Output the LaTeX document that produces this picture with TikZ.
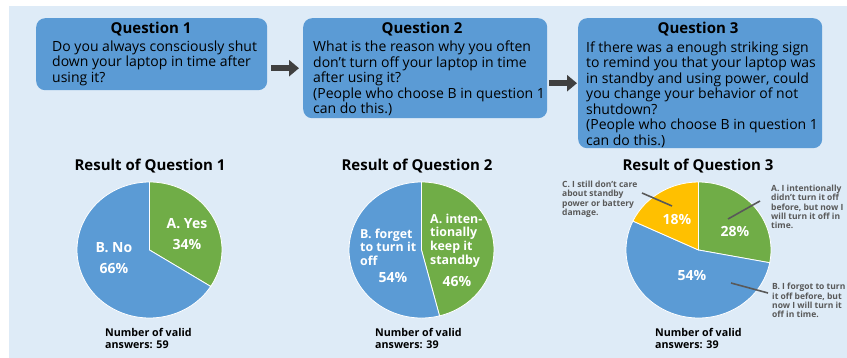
\documentclass[tikz,border=0pt]{standalone}
\usepackage{fontspec}
\setmainfont{Open Sans}
\usetikzlibrary{arrows.meta}
\definecolor{bgblue}{HTML}{DEEBF7}
\definecolor{boxblue}{HTML}{5B9BD5}
\definecolor{pgreen}{HTML}{70AD47}
\definecolor{pyellow}{HTML}{FFC000}
\definecolor{adark}{HTML}{404040}
\definecolor{lgray}{HTML}{595959}
\begin{document}
\begin{tikzpicture}[x=1pt,y=-1pt,
  qbox/.style={draw=none, fill=boxblue, rounded corners=9pt, inner sep=0, anchor=north west},
  qtitle/.style={font=\fontsize{15}{16}\selectfont\bfseries, inner sep=0, anchor=base},
  qbody/.style={font=\fontsize{14}{15.5}\selectfont, align=left, inner sep=0, anchor=north west},
  flow/.style={adark, line width=5.5pt, -{Triangle[length=10pt,width=16pt]}},
  rtitle/.style={font=\fontsize{15}{17}\selectfont\bfseries, inner sep=0, anchor=base},
  nvalid/.style={font=\fontsize{10.7}{12}\selectfont\bfseries, align=left, inner sep=0, anchor=north west},
  plabel/.style={font=\fontsize{12.4}{13.7}\selectfont\bfseries, text=white, align=left, inner sep=0, anchor=north west},
  pcent/.style={font=\fontsize{14}{15}\selectfont\bfseries, text=white, inner sep=0, anchor=center},
  callout/.style={font=\fontsize{8.5}{9.3}\selectfont\bfseries, text=lgray, align=left, inner sep=0, anchor=north west},
  leader/.style={draw=lgray, line width=1.6pt},
  slice/.style={draw=white, line width=0.8pt}]
\useasboundingbox (0,0) rectangle (847,358);
\fill[bgblue] (9,6) rectangle (847,358);

% question boxes
\node[qbox, minimum width=231pt, minimum height=72pt] (q1) at (36,18) {};
\node[qbox, minimum width=244pt, minimum height=100pt] (q2) at (303,18) {};
\node[qbox, minimum width=244pt, minimum height=130pt] (q3) at (578,18) {};

\node[qtitle] (t1) at (151,33.5) {Question 1};
\node[qtitle] (t2) at (422,33.5) {Question 2};
\node[qtitle] (t3) at (698,33.5) {Question 3};

\node[qbody] (b1) at (52,40.5) {Do you always consciously shut\\down your laptop in time after\\using it?};
\node[qbody] (b2) at (313,41) {What is the reason why you often\\don't turn off your laptop in time\\after using it?\\(People who choose B in question 1\\can do this.)};
\node[qbody] (b3) at (586,41.5) {If there was a enough striking sign\\to remind you that your laptop was\\in standby and using power, could\\you change your behavior of not\\shutdown?\\(People who choose B in question 1\\can do this.)};

\draw[flow] ([xshift=4pt]q1.east |- q2.west) -- ([xshift=-4pt]q2.west);
\draw[flow] ([xshift=2pt]q2.east |- q3.west) -- ([xshift=-1pt]q3.west);

% result titles
\node[rtitle] (r1) at (150,170.5) {Result of Question 1};
\node[rtitle] (r2) at (417,170.5) {Result of Question 2};
\node[rtitle] (r3) at (698,170.5) {Result of Question 3};

% pie 1
\begin{scope}[shift={(149.5,250)}, y=1pt]
  \filldraw[slice, fill=pgreen] (0,0) -- (90:72.5 and 68) arc[start angle=90, end angle=-32.4, x radius=72.5, y radius=68] -- cycle;
  \filldraw[slice, fill=boxblue] (0,0) -- (-32.4:72.5 and 68) arc[start angle=-32.4, end angle=-270, x radius=72.5, y radius=68] -- cycle;
\end{scope}
% pie 2
\begin{scope}[shift={(421.5,250)}, y=1pt]
  \filldraw[slice, fill=pgreen] (0,0) -- (90:72.5 and 68) arc[start angle=90, end angle=-75.6, x radius=72.5, y radius=68] -- cycle;
  \filldraw[slice, fill=boxblue] (0,0) -- (-75.6:72.5 and 68) arc[start angle=-75.6, end angle=-270, x radius=72.5, y radius=68] -- cycle;
\end{scope}
% pie 3
\begin{scope}[shift={(698.5,250)}, y=1pt]
  \filldraw[slice, fill=pgreen] (0,0) -- (90:72.5 and 68) arc[start angle=90, end angle=-10.8, x radius=72.5, y radius=68] -- cycle;
  \filldraw[slice, fill=boxblue] (0,0) -- (-10.8:72.5 and 68) arc[start angle=-10.8, end angle=-205.2, x radius=72.5, y radius=68] -- cycle;
  \filldraw[slice, fill=pyellow] (0,0) -- (-205.2:72.5 and 68) arc[start angle=-205.2, end angle=-270, x radius=72.5, y radius=68] -- cycle;
\end{scope}

% pie 1 labels
\node[pcent, align=center, font=\fontsize{14}{21}\selectfont\bfseries] (p1a) at (187,234.5) {A. Yes\\34\%};
\node[pcent, align=center, font=\fontsize{14}{21}\selectfont\bfseries] (p1b) at (114,258) {B. No\\66\%};
% pie 2 labels
\node[plabel] (p2a) at (430,213.5) {A. inten-\\tionally\\keep it\\standby};
\node[pcent] (p2ap) at (457,281) {46\%};
\node[plabel] (p2b) at (360,228.5) {B. forget\\to turn it\\off};
\node[pcent] (p2bp) at (393,278) {54\%};
% pie 3 labels
\node[pcent] (p3a) at (735,232) {28\%};
\node[pcent] (p3b) at (692,276) {54\%};
\node[pcent] (p3c) at (677,220) {18\%};

\node[callout] (c3a) at (771,185) {A. I intentionally\\didn't turn it off\\before, but now I\\will turn it off in\\time.};
\node[callout] (c3b) at (772,283) {B. I forgot to turn\\it off before, but\\now I will turn it\\off in time.};
\node[callout] (c3c) at (562,181) {C. I still don't care\\about standby\\power or battery\\damage.};

\coordinate (la1) at (728,219); \coordinate (la2) at (760,201);
\coordinate (lb1) at (731,283); \coordinate (lb2) at (768,293);
\coordinate (lc1) at (642,193); \coordinate (lc2) at (672,206);
\draw[leader] (la1) -- (la2);
\draw[leader] (lb1) -- (lb2);
\draw[leader] (lc1) -- (lc2);

% valid answers
\node[nvalid] (n1) at (105,328.5) {Number of valid\\answers: 59};
\node[nvalid] (n2) at (375,328.5) {Number of valid\\answers: 39};
\node[nvalid] (n3) at (655,328.5) {Number of valid\\answers: 39};
\end{tikzpicture}
\end{document}
